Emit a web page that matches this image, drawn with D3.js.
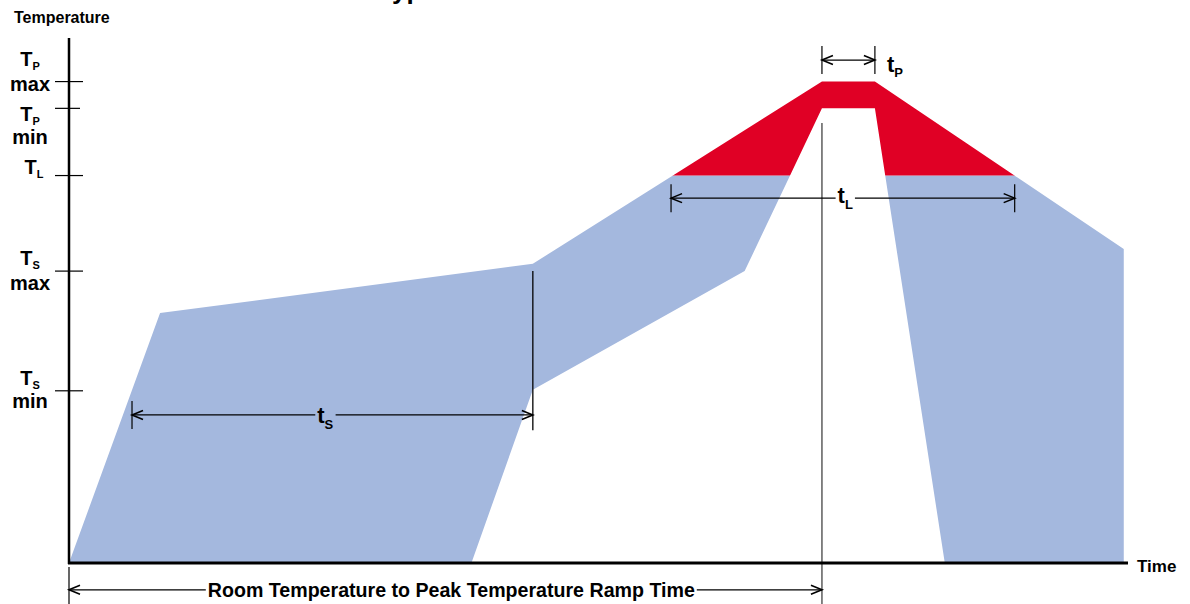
<!DOCTYPE html>
<html>
<head>
<meta charset="utf-8">
<script src="https://cdn.jsdelivr.net/npm/d3@7"></script>
<style>
  body { margin: 0; background: #fff; }
  svg text { font-family: "Liberation Sans", Arial, sans-serif; font-weight: bold; fill: #000; }
  .narrow { font-family: "Liberation Sans Narrow", "Arial Narrow", "Liberation Sans", sans-serif; }
</style>
</head>
<body>
<svg id="chart"></svg>
<script>
// relative units: time 0..100, temperature 0..100
const tickNames = ["T", "T", "T", "T", "T"];
const tickSubs = ["P", "P", "L", "S", "S"];
const tickSecond = ["max", "min", "", "max", "min"];
const tickLevels = [91.7, 86.6, 73.8, 55.6, 32.8];

// outer envelope (upper limit) and inner envelope (lower limit) of the profile
const outerTime = [0, 8.6, 43.8, 71.1, 76.1, 99.6, 99.6];
const outerTemp = [0, 47.6, 57.0, 91.7, 91.7, 59.8, 0];
const innerTime = [82.7, 76.1, 71.1, 63.8, 43.8, 38.0];
const innerTemp = [0, 86.6, 86.6, 55.6, 33.0, 0];

// dimension arrows
const dimNames = ["t", "t", "t", "Room Temperature to Peak Temperature Ramp Time"];
const dimSubs = ["S", "L", "P", ""];
const dimStart = [5.95, 56.85, 71.1, 0];
const dimEnd = [43.8, 89.3, 76.1, 71.1];
const dimLevel = [28.2, 69.5, 95.8, -5.1];
const dimLabelAt = [24.2, 73.3, null, 36.1];

// guide lines
const guideTime = [71.1, 43.8];
const guideFrom = [83.8, 55.6];
const guideTo = [-7.8, 25.3];

const W = 1190, H = 604;
const svg = d3.select("#chart").attr("width", W).attr("height", H);

const x = d3.scaleLinear().domain([0, 100]).range([69, 1128]);
const y = d3.scaleLinear().domain([0, 100]).range([563, 38]);

const TL = tickLevels[2];

// title (cut off at top)
svg.append("text")
    .attr("x", 378).attr("y", -1)
    .style("font-size", "26px")
    .text("Typical Reflow Profile");

svg.append("text")
    .attr("x", 14).attr("y", 23)
    .style("font-size", "16px")
    .text("Temperature");

// profile polygon
const pts = outerTime.map((t, i) => [t, outerTemp[i]])
    .concat(innerTime.map((t, i) => [t, innerTemp[i]]));
const line = d3.line().x(d => x(d[0])).y(d => y(d[1]));

const defs = svg.append("defs");
defs.append("clipPath").attr("id", "above")
    .append("rect").attr("x", 0).attr("y", 0).attr("width", W).attr("height", y(TL));
defs.append("clipPath").attr("id", "below")
    .append("rect").attr("x", 0).attr("y", y(TL)).attr("width", W).attr("height", H - y(TL));

svg.append("path")
    .attr("d", line(pts) + "Z")
    .attr("fill", "#a4b8de")
    .attr("clip-path", "url(#below)");
svg.append("path")
    .attr("d", line(pts) + "Z")
    .attr("fill", "#e00025")
    .attr("clip-path", "url(#above)");

// guide lines
guideTime.forEach((t, i) => {
    svg.append("line")
        .attr("x1", x(t)).attr("x2", x(t))
        .attr("y1", y(guideFrom[i])).attr("y2", y(guideTo[i]))
        .attr("stroke", i === 0 ? "#444" : "#000")
        .attr("stroke-width", 1.3);
});

// axes
svg.append("line")
    .attr("x1", x(0)).attr("x2", x(0))
    .attr("y1", y(100)).attr("y2", y(0) + 1)
    .attr("stroke", "#000").attr("stroke-width", 2.5);
svg.append("line")
    .attr("x1", x(0) - 1).attr("x2", x(100))
    .attr("y1", y(0)).attr("y2", y(0))
    .attr("stroke", "#000").attr("stroke-width", 3);

svg.append("text")
    .attr("x", x(100) + 9).attr("y", y(0) + 9)
    .style("font-size", "17px")
    .text("Time");

// y ticks + labels
const labelOffsets = [[-16, 9], [13, 36], [-2, 0], [-6, 19], [-6, 17]];
tickLevels.forEach((v, i) => {
    const yy = y(v);
    svg.append("line")
        .attr("x1", 55).attr("x2", i === 1 ? 80 : 83)
        .attr("y1", yy).attr("y2", yy)
        .attr("stroke", "#000").attr("stroke-width", 1.2);
    const cx = tickSecond[i] ? 30 : 34;
    const t = svg.append("text")
        .attr("x", cx).attr("y", yy + labelOffsets[i][0])
        .attr("text-anchor", "middle")
        .style("font-size", "20px");
    t.append("tspan").text(tickNames[i]);
    t.append("tspan").attr("dy", 4).style("font-size", "11px").text(tickSubs[i]);
    if (tickSecond[i]) {
        svg.append("text")
            .attr("x", 30).attr("y", yy + labelOffsets[i][1])
            .attr("text-anchor", "middle")
            .style("font-size", "20px")
            .text(tickSecond[i]);
    }
});

// dimension arrows
function arrowHead(xt, yy, dir) {
    const L = 11, h = 4.5;
    svg.append("path")
        .attr("d", `M${xt + dir * L},${yy - h}L${xt},${yy}L${xt + dir * L},${yy + h}`)
        .attr("fill", "none").attr("stroke", "#000").attr("stroke-width", 1.6);
}

dimNames.forEach((name, i) => {
    const x0 = x(dimStart[i]), x1 = x(dimEnd[i]), yy = y(dimLevel[i]);
    const isRamp = i === 3;
    // extension ticks
    if (isRamp) {
        svg.append("line").attr("x1", x0).attr("x2", x0)
            .attr("y1", y(0) + 4).attr("y2", H)
            .attr("stroke", "#000").attr("stroke-width", 1.2);
    } else {
        [x0, x1].forEach((xx, k) => {
            if (i === 0 && k === 1) return; // covered by guide line
            svg.append("line").attr("x1", xx).attr("x2", xx)
                .attr("y1", yy - 14).attr("y2", yy + 14)
                .attr("stroke", "#000").attr("stroke-width", 1.2);
        });
    }

    let gap = null;
    if (dimLabelAt[i] !== null) {
        const lx = x(dimLabelAt[i]);
        const t = svg.append("text")
            .attr("x", lx)
            .attr("text-anchor", "middle");
        if (isRamp) {
            t.attr("class", "narrow").attr("y", yy + 7)
                .style("font-size", "20px")
                .attr("textLength", 487).attr("lengthAdjust", "spacingAndGlyphs")
                .text(name);
        } else {
            t.attr("y", yy + (i === 0 ? 8 : 5)).style("font-size", "22px");
            t.append("tspan").text(name);
            t.append("tspan").attr("dy", 6).style("font-size", "13px").text(dimSubs[i]);
        }
        const bb = t.node().getBBox();
        gap = [bb.x - 2, bb.x + bb.width + 2];
    } else {
        const t = svg.append("text")
            .attr("x", x1 + 12).attr("y", yy + 12)
            .style("font-size", "22px");
        t.append("tspan").text(name);
        t.append("tspan").attr("dy", 5).style("font-size", "13px").text(dimSubs[i]);
    }

    const segs = gap ? [[x0, gap[0]], [gap[1], x1]] : [[x0, x1]];
    segs.forEach(s => {
        svg.append("line").attr("x1", s[0]).attr("x2", s[1])
            .attr("y1", yy).attr("y2", yy)
            .attr("stroke", "#000").attr("stroke-width", 1.3);
    });
    arrowHead(x0, yy, 1);
    arrowHead(x1, yy, -1);
});
</script>
</body>
</html>
